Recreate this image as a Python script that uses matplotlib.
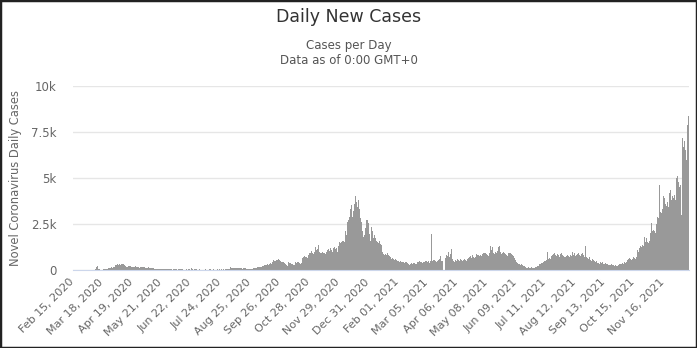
import numpy as np
import pandas as pd
import matplotlib
matplotlib.use("Agg")
import matplotlib.pyplot as plt
import matplotlib.transforms as mtransforms
from matplotlib.patches import Rectangle

plt.rcParams['font.family'] = ['DejaVu Sans']

# daily new cases, one list per month (Feb 15, 2020 -> Dec 12, 2021)
feb20 = [0, 0, 0, 0, 0, 0, 0, 0, 0, 0, 0, 0, 1, 0, 2]
mar20 = [1, 0, 6, 5, 5, 8, 8, 10, 20, 60, 180, 200, 70, 30, 20, 20, 25, 60, 70, 60,
         50, 40, 50, 90, 110, 120, 150, 120, 140, 180, 200]
apr20 = [250, 260, 300, 280, 330, 290, 310, 340, 300, 250, 220, 180, 200, 170, 240,
         210, 200, 180, 160, 150, 180, 200, 190, 170, 160, 150, 120, 140, 150, 160]
may20 = [150, 140, 120, 110, 130, 140, 120, 110, 100, 90, 100, 110, 80, 70, 60, 50,
         40, 50, 60, 50, 40, 40, 30, 30, 40, 40, 40, 50, 60, 30, 30]
jun20 = [20, 30, 40, 30, 40, 30, 20, 30, 30, 40, 30, 30, 20, 10, 20, 30, 20, 30, 40,
         30, 20, 100, 30, 20, 30, 40, 30, 20, 20, 30]
jul20 = [10, 20, 20, 10, 10, 20, 30, 20, 10, 20, 30, 70, 20, 10, 20, 30, 20, 20, 10,
         60, 20, 30, 20, 30, 20, 60, 30, 20, 70, 40, 60]
aug20 = [80, 60, 150, 90, 100, 100, 110, 120, 300, 130, 90, 110, 120, 100, 110, 80,
         90, 100, 90, 70, 60, 50, 60, 70, 60, 70, 80, 90, 100, 110, 130]
sep20 = [140, 150, 180, 200, 170, 160, 230, 240, 260, 250, 280, 300, 290, 350, 380,
         320, 400, 450, 520, 480, 500, 540, 520, 590, 560, 480, 420, 450, 460, 420]
oct20 = [380, 300, 250, 220, 420, 400, 380, 300, 350, 280, 250, 420, 380, 400, 420,
         450, 380, 350, 400, 650, 720, 750, 700, 680, 650, 800, 850, 950, 900, 1050, 900]
nov20 = [850, 1000, 1240, 1100, 1150, 1380, 1000, 900, 1050, 950, 1000, 900, 950, 850,
         1000, 1100, 1150, 1050, 1200, 1100, 1000, 950, 1200, 1250, 1150, 1200, 1000,
         1300, 1500, 1450]
dec20 = [1500, 1550, 1600, 1500, 2000, 2100, 1900, 2600, 2700, 2900, 3300, 3550, 2900,
         3200, 3600, 4000, 3700, 4480, 3400, 3830, 3300, 2850, 2600, 2100, 1800, 1900,
         2300, 2740, 2700, 2550, 2200]
jan21 = [1950, 1600, 2350, 2100, 1750, 1900, 1750, 1600, 1500, 1450, 1550, 1400, 1300,
         1350, 1000, 850, 800, 850, 800, 900, 800, 750, 700, 600, 650, 700, 600, 550,
         600, 550, 500]
feb21 = [480, 450, 470, 430, 450, 420, 400, 460, 440, 420, 380, 350, 250, 300, 380,
         350, 400, 370, 330, 300, 350, 420, 450, 480, 430, 460, 400, 420]
mar21 = [450, 480, 500, 450, 470, 420, 400, 480, 1980, 500, 550, 520, 480, 450, 500,
         550, 600, 760, 550, 500, 480, 0, 0, 650, 800, 750, 1000, 700, 850, 1150, 600]
apr21 = [550, 500, 450, 520, 480, 600, 550, 500, 580, 520, 480, 550, 600, 520, 550,
         500, 600, 650, 700, 750, 650, 800, 700, 650, 720, 850, 800, 750, 820, 780]
may21 = [800, 750, 850, 900, 950, 900, 850, 800, 750, 900, 1050, 1300, 1100, 1250, 950,
         850, 1000, 900, 1050, 1250, 1300, 1000, 850, 900, 950, 1000, 900, 850, 800,
         750, 900]
jun21 = [950, 900, 850, 800, 750, 700, 650, 550, 450, 400, 350, 300, 280, 320, 250, 220,
         200, 150, 140, 120, 130, 150, 120, 110, 140, 100, 110, 130, 140, 180]
jul21 = [200, 250, 220, 300, 350, 400, 380, 450, 500, 480, 550, 1000, 600, 650, 550,
         620, 750, 800, 850, 900, 800, 750, 850, 800, 700, 850, 900, 1200, 800, 750, 700]
aug21 = [700, 750, 800, 780, 720, 800, 750, 1000, 800, 850, 900, 750, 800, 850, 900,
         800, 750, 850, 900, 800, 700, 1300, 750, 700, 650, 600, 700, 550, 500, 600, 550]
sep21 = [500, 450, 480, 400, 420, 380, 350, 420, 380, 450, 350, 300, 380, 320, 300, 280,
         250, 220, 250, 300, 280, 250, 230, 260, 220, 240, 280, 300, 320, 350]
oct21 = [380, 420, 350, 450, 400, 430, 550, 600, 650, 580, 550, 600, 700, 650, 680, 620,
         700, 1100, 1000, 1200, 1300, 1250, 1350, 1300, 1800, 1500, 1750, 1800, 1500,
         1450, 1550]
nov21 = [2000, 2550, 2100, 2200, 2100, 2000, 2500, 2900, 2800, 3000, 4600, 3150, 3100,
         3300, 4000, 3900, 3600, 3500, 3700, 3400, 4200, 4370, 4100, 3800, 4000, 3900,
         4100, 3800, 5000, 5100]
dec21 = [4800, 4500, 4600, 3000, 7200, 7000, 6700, 7000, 6500, 6000, 7900, 8350]

cases = np.array(feb20 + mar20 + apr20 + may20 + jun20 + jul20 + aug20 + sep20 + oct20
                 + nov20 + dec20 + jan21 + feb21 + mar21 + apr21 + may21 + jun21 + jul21
                 + aug21 + sep21 + oct21 + nov21 + dec21)
dates = pd.date_range("2020-02-15", periods=len(cases), freq="D")

y_ticks = [0, 2500, 5000, 7500, 10000]
y_labels = ["0", "2.5k", "5k", "7.5k", "10k"]

fig = plt.figure(figsize=(6.97, 3.48), dpi=100)
ax = fig.add_axes([73 / 697, 78 / 348, 616 / 697, 184 / 348])

idx = np.arange(len(cases))
ax.bar(idx, cases, width=1.0, color="#999999", linewidth=0, zorder=2)

ax.set_xlim(-0.5, len(cases) - 0.5)
ax.set_ylim(0, 10000)

# x labels every 32 days
tick_pos = idx[::32]
ax.set_xticks(tick_pos)
ax.set_xticklabels([dates[i].strftime("%b %d, %Y") for i in tick_pos],
                   rotation=45, ha="right", va="top", rotation_mode="anchor",
                   fontsize=8, color="#666666")
ax.tick_params(axis="x", length=0, pad=5)
shift = mtransforms.ScaledTranslation(-5 / 100, 0, fig.dpi_scale_trans)
for lbl in ax.get_xticklabels():
    lbl.set_transform(lbl.get_transform() + shift)

ax.set_yticks(y_ticks)
ax.set_yticklabels(y_labels, fontsize=8.5, color="#666666")
ax.tick_params(axis="y", length=0, pad=12)

ax.grid(axis="y", color="#e6e6e6", linewidth=1, zorder=0)
ax.set_axisbelow(True)
for s in ["top", "right", "left"]:
    ax.spines[s].set_visible(False)
ax.spines["bottom"].set_color("#ccd6eb")
ax.spines["bottom"].set_zorder(3)

ax.set_ylabel("Novel Coronavirus Daily Cases", fontsize=8.3, color="#666666")
ax.yaxis.set_label_coords(-0.082, 0.5)

fig.text(0.5, 1 - 17 / 348, "Daily New Cases", ha="center", va="center",
         fontsize=12.5, color="#333333")
fig.text(0.5, 1 - 46 / 348, "Cases per Day", ha="center", va="center",
         fontsize=8.5, color="#555555")
fig.text(0.5, 1 - 61 / 348, "Data as of 0:00 GMT+0", ha="center", va="center",
         fontsize=8.5, color="#555555")

fig.patches.append(Rectangle((0, 0), 1, 1, transform=fig.transFigure, fill=False,
                             edgecolor="#222222", linewidth=2.5))

fig.savefig("out.png", dpi=100)
